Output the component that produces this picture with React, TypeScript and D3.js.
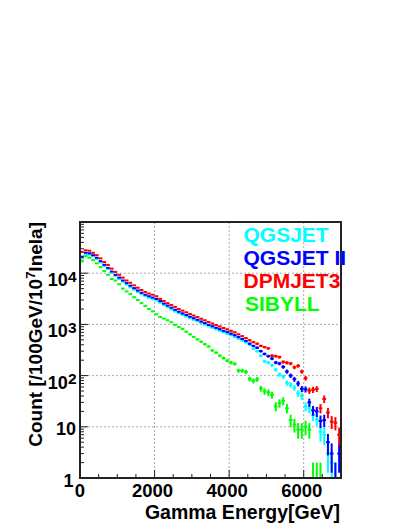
import React from "react";
import * as d3 from "d3";

const binWidth = 100;
const xTicks = [0, 2000, 4000, 6000];
const yDecades = [1, 10, 100, 1000, 10000, 100000];
const seriesNames = ["QGSJET", "QGSJET II", "DPMJET3", "SIBYLL"];
const seriesColors = ["#00ffff", "#0000ff", "#ff0000", "#00ff00"];

const qgsjet = [
  18000, 22500, 23000, 21500, 19000, 16200, 13800, 12000, 10200, 8800,
  7700, 6800, 6000, 5300, 4750, 4300, 3900, 3550, 3300, 3100,
  2920, 2650, 2380, 2170, 1960, 1790, 1650, 1530, 1420, 1320,
  1230, 1150, 1060, 990, 915, 860, 800, 750, 700, 655,
  615, 570, 525, 480, 445, 400, 335, 300, 245, 190,
  180, 160, 130, 105, 95, 72, 66, 58, 45, 40,
  25, 23, 17, 14, 8, 7, 3, 2, 1, 0,
];
const qgsjet2 = [
  21000, 25000, 24500, 22500, 20000, 17200, 14600, 12700, 10800, 9300,
  8200, 7200, 6400, 5700, 5100, 4600, 4150, 3800, 3550, 3350,
  3150, 2850, 2550, 2330, 2120, 1930, 1770, 1640, 1520, 1415,
  1320, 1230, 1140, 1060, 980, 920, 860, 805, 750, 705,
  660, 615, 565, 520, 475, 420, 380, 350, 300, 265,
  240, 215, 180, 172, 148, 120, 100, 85, 70, 55,
  54, 30, 21, 20, 13, 13.5, 5, 3, 1, 3,
];
const dpmjet3 = [
  26000, 28000, 27500, 25000, 22500, 19500, 16500, 14500, 12300, 10600,
  9300, 8200, 7200, 6500, 5800, 5200, 4700, 4300, 4000, 3800,
  3550, 3150, 2850, 2600, 2400, 2200, 2000, 1860, 1720, 1600,
  1490, 1390, 1290, 1200, 1110, 1040, 970, 910, 850, 800,
  750, 700, 640, 590, 540, 490, 450, 420, 380, 360,
  340, 245, 240, 230, 185, 178, 172, 145, 155, 120,
  89, 51, 53, 55, 23, 35, 19, 12.6, 12, 7,
];
const sibyll = [
  17000, 21500, 20000, 18000, 15600, 13100, 11000, 9300, 7700, 7200,
  6100, 5000, 4400, 3900, 3400, 3000, 2600, 2300, 2000, 1800,
  1580, 1400, 1300, 1200, 1100, 980, 890, 820, 720, 640,
  570, 510, 460, 410, 370, 310, 280, 245, 220, 195,
  180, 170, 125, 125, 118, 86, 79, 85, 56, 49,
  47, 42, 25, 29, 32, 23, 13.5, 11, 8.8, 8.8,
  10, 8.8, 1, 1, 1, 0, 0, 0, 0, 0,
];
const allSeries = [qgsjet, qgsjet2, dpmjet3, sibyll];

const FONT = "'Liberation Sans', Arial, Helvetica, sans-serif";

export default function App() {
  const left = 80, right = 341, top = 222, bottom = 478;
  const x = d3.scaleLinear().domain([0, 7000]).range([left, right]);
  const y = d3.scaleLog().domain([1, 1e5]).range([bottom, top]);

  const minorY: number[] = [];
  for (let d = 1; d < 1e5; d *= 10) for (let m = 2; m <= 9; m++) minorY.push(d * m);
  const minorX = d3.range(0, 7001, 500).filter((v) => v % 2000 !== 0);

  const marks = allSeries.map((vals, si) =>
    vals.map((v, i) => {
      if (v <= 0) return null;
      const e = Math.sqrt(v);
      const x0 = x(i * binWidth), x1 = x((i + 1) * binWidth), cx = x(i * binWidth + binWidth / 2);
      const yv = y(v);
      const yt = y(Math.min(v + e, 1e5));
      const yb = v - e > 1 ? y(v - e) : bottom;
      return (
        <g key={`${si}-${i}`} stroke={seriesColors[si]} strokeWidth={2}>
          <line x1={x0} x2={x1} y1={yv} y2={yv} />
          <line x1={cx} x2={cx} y1={yt} y2={yb} />
        </g>
      );
    })
  );

  return (
    <svg width={409} height={529} style={{ position: "absolute", left: 0, top: 0, background: "#fff" }} fontFamily={FONT}>
      <defs>
        <clipPath id="plotclip">
          <rect x={left} y={top} width={right - left} height={bottom - top} />
        </clipPath>
      </defs>
      <g stroke="#aaa" strokeWidth={1} strokeDasharray="2,2">
        {xTicks.filter((t) => t > 0).map((t) => (
          <line key={t} x1={x(t)} x2={x(t)} y1={top} y2={bottom} />
        ))}
        {yDecades.filter((d) => d > 1 && d < 1e5).map((d) => (
          <line key={d} x1={left} x2={right} y1={y(d)} y2={y(d)} />
        ))}
      </g>
      <g clipPath="url(#plotclip)">{marks}</g>
      <g stroke="#222" strokeWidth={1}>
        {yDecades.map((d) => (
          <line key={"ym" + d} x1={left} x2={left + 8} y1={y(d)} y2={y(d)} />
        ))}
        {minorY.map((d) => (
          <line key={"yn" + d} x1={left} x2={left + 4} y1={y(d)} y2={y(d)} />
        ))}
        {xTicks.map((t) => (
          <line key={"xm" + t} x1={x(t)} x2={x(t)} y1={bottom} y2={bottom - 8} />
        ))}
        {minorX.map((t) => (
          <line key={"xn" + t} x1={x(t)} x2={x(t)} y1={bottom} y2={bottom - 4} />
        ))}
      </g>
      <rect x={left} y={top} width={right - left} height={bottom - top} fill="none" stroke="#222" strokeWidth={2} />
      <g fontWeight="bold" fill="#000">
        <text x={73.5} y={y(1) + 8.7} fontSize={18} textAnchor="end">1</text>
        <text x={76} y={y(10) + 8} fontSize={18} textAnchor="end">10</text>
        {[2, 3, 4].map((k) => (
          <text key={k} x={76.5} y={y(Math.pow(10, k)) + 13} fontSize={18} textAnchor="end">
            10<tspan fontSize={15.5} dy={-4.5}>{k}</tspan>
          </text>
        ))}
      </g>
      <g fontWeight="bold" fill="#000" fontSize={18.5} textAnchor="middle">
        {xTicks.map((t) => (
          <text key={t} x={x(t) - (t === 0 ? 0 : 2)} y={496.5}>{t}</text>
        ))}
      </g>
      <text x={340} y={518.5} fontSize={19.5} fontWeight="bold" textAnchor="end">Gamma Energy[GeV]</text>
      <text transform={`translate(41.5,${top}) rotate(-90)`} fontSize={19} fontWeight="bold" textAnchor="end">
        Count [/100GeV/10<tspan fontSize={13} dy={-7}>7</tspan><tspan dy={7}>Inela]</tspan>
      </text>
      <g fontWeight="bold" fontSize={21}>
        {seriesNames.map((n, i) => (
          <text key={n} x={243.5 + (i === 3 ? 1.5 : 0)} y={241.7 + i * 23} fill={seriesColors[i]}>{n}</text>
        ))}
      </g>
    </svg>
  );
}
